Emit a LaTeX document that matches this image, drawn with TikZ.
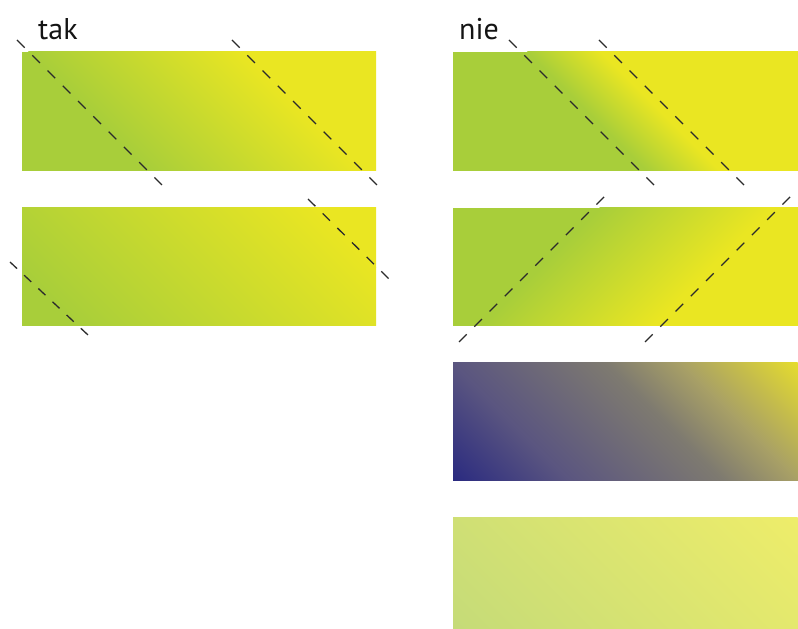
\documentclass[tikz,border=0pt]{standalone}
\usepackage{fontspec}
\setmainfont{PT Sans}
\definecolor{gr}{HTML}{A8CE3A}
\definecolor{ye}{HTML}{EAE622}
\definecolor{bA}{HTML}{2A2A80}
\definecolor{bB}{HTML}{5A5580}
\definecolor{bC}{HTML}{7E7A70}
\definecolor{bD}{HTML}{A8A066}
\definecolor{bE}{HTML}{E5DC2E}
\definecolor{lA}{HTML}{C5DB78}
\definecolor{lB}{HTML}{EEED6A}
\definecolor{guidecol}{HTML}{2B2B2B}
\pgfdeclarehorizontalshading{gyshade}{100bp}{color(0bp)=(gr); color(25bp)=(gr); color(75bp)=(ye); color(100bp)=(ye)}
\pgfdeclarehorizontalshading{byshade}{100bp}{color(0bp)=(bA); color(25bp)=(bA); color(37.5bp)=(bB); color(54.25bp)=(bC); color(62.25bp)=(bD); color(75bp)=(bE); color(100bp)=(bE)}
\pgfdeclarehorizontalshading{lightshade}{100bp}{color(0bp)=(lA); color(25bp)=(lA); color(75bp)=(lB); color(100bp)=(lB)}
\tikzset{
  guide/.style={draw=guidecol, line width=1.3pt, dash pattern=on 10.8pt off 10.8pt},
  lbl/.style={anchor=base west, inner sep=0pt, font=\fontsize{30}{36}\selectfont, text=black!92},
}
\begin{document}
\begin{tikzpicture}[x=1pt,y=1pt]
\useasboundingbox (0,0) rectangle (798,629);
% ---------- left column, top
\begin{scope}
  \clip (22,458) rectangle (376,577);
  \fill[gr] (22,458) rectangle (376,577);
  \begin{scope}[transform canvas={rotate=45}]
    \fill[ye] (579.5,-1200) rectangle (1200,1200);
    \shade[shading=gyshade] (428.5,-1200) rectangle (580.5,1200);
  \end{scope}
\end{scope}
% ---------- left column, bottom
\begin{scope}
  \clip (22,303) rectangle (376,421);
  \fill[gr] (22,303) rectangle (376,421);
  \begin{scope}[transform canvas={rotate=45}]
    \fill[ye] (521.5,-1200) rectangle (1200,1200);
    \shade[shading=gyshade] (268,-1200) rectangle (522.5,1200);
  \end{scope}
\end{scope}
% ---------- right column, 1
\begin{scope}
  \clip (453,458) rectangle (798,577);
  \fill[gr] (453,458) rectangle (798,577);
  \begin{scope}[transform canvas={rotate=45}]
    \fill[ye] (832,-1200) rectangle (1200,1200);
    \shade[shading=gyshade] (781.3,-1200) rectangle (833,1200);
  \end{scope}
\end{scope}
% ---------- right column, 2
\begin{scope}
  \clip (453,303) rectangle (798,421);
  \fill[gr] (453,303) rectangle (798,421);
  \begin{scope}[transform canvas={rotate=-45}]
    \fill[ye] (246,-1200) rectangle (1200,1200);
    \shade[shading=gyshade] (126,-1200) rectangle (247,1200);
  \end{scope}
\end{scope}
% ---------- right column, 3
\begin{scope}
  \clip (453,148) rectangle (798,266);
  \begin{scope}[transform canvas={rotate=45}]
    \shade[shading=byshade] (425,-1200) rectangle (752.4,1200);
  \end{scope}
\end{scope}
% ---------- right column, 4
\begin{scope}
  \clip (453,0) rectangle (798,111);
  \begin{scope}[transform canvas={rotate=45}]
    \shade[shading=lightshade] (320.3,-1200) rectangle (642.8,1200);
  \end{scope}
\end{scope}
% ---------- labels
\node[lbl] (tak) at (38,589) {tak};
\node[lbl] (nie) at (459,589) {nie};
% ---------- guide lines
\coordinate (l1as) at (17,589);  \coordinate (l1ae) at (162,444);
\coordinate (l1bs) at (232,589); \coordinate (l1be) at (377,444);
\coordinate (l2as) at (10,367);  \coordinate (l2ae) at (88,294);
\coordinate (l2bs) at (308,430); \coordinate (l2be) at (389,350);
\coordinate (r1as) at (509,589); \coordinate (r1ae) at (654,444);
\coordinate (r1bs) at (599,589); \coordinate (r1be) at (744,444);
\coordinate (r2as) at (459,287); \coordinate (r2ae) at (605,433);
\coordinate (r2bs) at (645,287); \coordinate (r2be) at (791,433);
\draw[guide] (l1as) -- (l1ae);
\draw[guide] (l1bs) -- (l1be);
\draw[guide, dash pattern=on 9.7pt off 9.7pt] (l2as) -- (l2ae);
\draw[guide, dash pattern=on 10.3pt off 10.3pt] (l2bs) -- (l2be);
\draw[guide] (r1as) -- (r1ae);
\draw[guide] (r1bs) -- (r1be);
\draw[guide] (r2as) -- (r2ae);
\draw[guide] (r2bs) -- (r2be);
\end{tikzpicture}
\end{document}
